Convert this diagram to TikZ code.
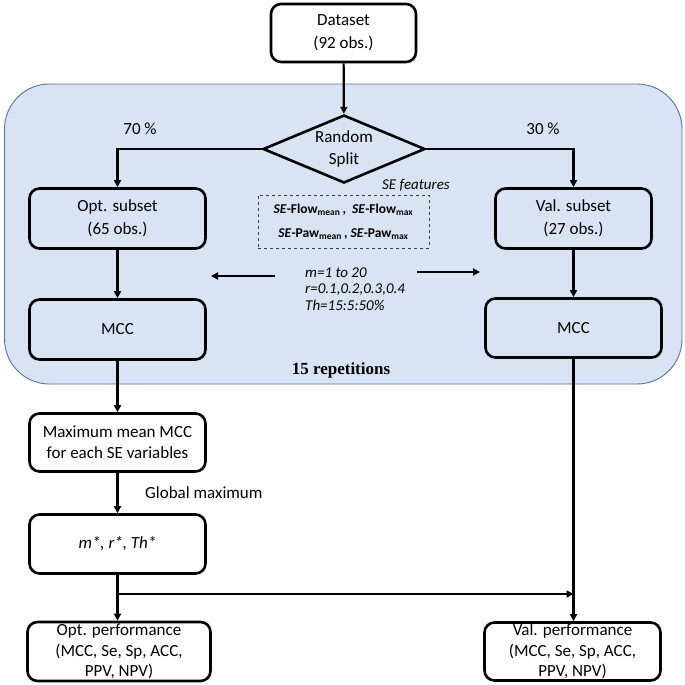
\documentclass[tikz,border=0pt]{standalone}
\usepackage{fontspec}
\setmainfont{Carlito}
\newfontfamily\tnr{Liberation Serif}
\usetikzlibrary{shapes.geometric,arrows.meta}
\definecolor{regionfill}{HTML}{DAE3F3}
\definecolor{regionline}{HTML}{4F72B0}
\begin{document}
\begin{tikzpicture}[x=1pt,y=-1pt,
  box/.style={draw, line width=2.6pt, rounded corners=10pt, align=center, inner sep=0pt,
    font=\fontsize{17}{21}\selectfont},
  upbox/.style={box, font=\fontsize{17}{23}\selectfont},
  conn/.style={line width=2.2pt, -{Triangle[length=7pt,width=7pt]}},
  lbl/.style={font=\fontsize{17}{21}\selectfont, inner sep=0pt},
  small/.style={font=\fontsize{15}{16.5}\selectfont\itshape, inner sep=0pt, align=left}
]
\useasboundingbox (0,0) rectangle (685,685);
\fill[white] (0,0) rectangle (685,685);
% region
\draw[fill=regionfill, draw=regionline, line width=0.9pt, rounded corners=45pt]
  (4.5,84) rectangle (682,384);
% nodes
\node[upbox, minimum width=145, minimum height=58] (data) at (343.5,33) {Dataset\\(92 obs.)};
\node[diamond, draw, line width=2.6pt, aspect=2.3, minimum width=162, minimum height=68,
  inner sep=0pt, align=center, font=\fontsize{17}{22}\selectfont] (split) at (344,149) {Random\\Split};
\node[upbox, minimum width=176, minimum height=60] (opt) at (117.5,218.5) {Opt. subset\\(65 obs.)};
\node[upbox, minimum width=156, minimum height=60] (val) at (573.5,218.5) {Val. subset\\(27 obs.)};
\node[box, minimum width=176, minimum height=60] (mccl) at (117.5,329.5) {MCC};
\node[box, minimum width=176, minimum height=59] (mccr) at (573.5,328) {MCC};
\node[box, minimum width=176, minimum height=58] (maxm) at (117.5,442.5) {Maximum mean MCC\\for each SE variables};
\node[box, minimum width=176, minimum height=59] (mstar) at (117.5,544) {\itshape m*, r*, Th*};
\node[box, minimum width=183, minimum height=59, font=\fontsize{17}{20.5}\selectfont] (optp) at (119,651.5)
  {Opt. performance\\(MCC, Se, Sp, ACC,\\PPV, NPV)};
\node[box, minimum width=176, minimum height=58, font=\fontsize{17}{20.5}\selectfont] (valp) at (572.5,651.5)
  {Val. performance\\(MCC, Se, Sp, ACC,\\PPV, NPV)};
% labels
\node[lbl] (p70) at (140,129) {70 \%};
\node[lbl] (p30) at (543,129) {30 \%};
\node[font=\fontsize{15}{18}\selectfont\itshape, inner sep=0pt] (sef) at (416,185) {SE features};
\node[draw=black!75, dashed, line width=0.8pt, minimum width=171, minimum height=53, inner sep=0pt,
  align=center, font=\fontsize{13.5}{24}\selectfont\bfseries] (feat) at (343.5,221.5)
  {\textit{SE}-Flow\textsubscript{mean}\,,\ \ \textit{SE}-Flow\textsubscript{max}\\
   \textit{SE}-Paw\textsubscript{mean}\,, \textit{SE}-Paw\textsubscript{max}};
\node[small, anchor=west] (params) at (305,289) {m=1 to 20\\r=0.1,0.2,0.3,0.4\\Th=15:5:50\%};
\node[font=\fontsize{17}{20}\selectfont\tnr\bfseries, inner sep=0pt] (rep) at (341,370) {15 repetitions};
\node[lbl, anchor=west] (glob) at (145,493) {Global maximum};
% coordinates for free arrows
\coordinate (la1) at (275,276);
\coordinate (la2) at (211,276);
\coordinate (ra1) at (417,272);
\coordinate (ra2) at (480,272);
% connectors
\draw[conn] (data) -- (split);
\draw[conn] (split.west) -| (opt.north);
\draw[conn] (split.east) -| (val.north);
\draw[conn] (opt) -- (mccl);
\draw[conn] (val) -- (mccr);
\draw[conn] (mccl) -- (maxm);
\draw[conn] (maxm) -- (mstar);
\draw[conn] (mstar.south -| opt.north) -- (optp.north -| opt.north);
\draw[conn] (mccr.south) -- (valp.north -| mccr.south);
\coordinate (br) at (117.5,594);
\draw[conn] (br) -- (br -| mccr.south);
\draw[conn] (la1) -- (la2);
\draw[conn] (ra1) -- (ra2);
\end{tikzpicture}
\end{document}
